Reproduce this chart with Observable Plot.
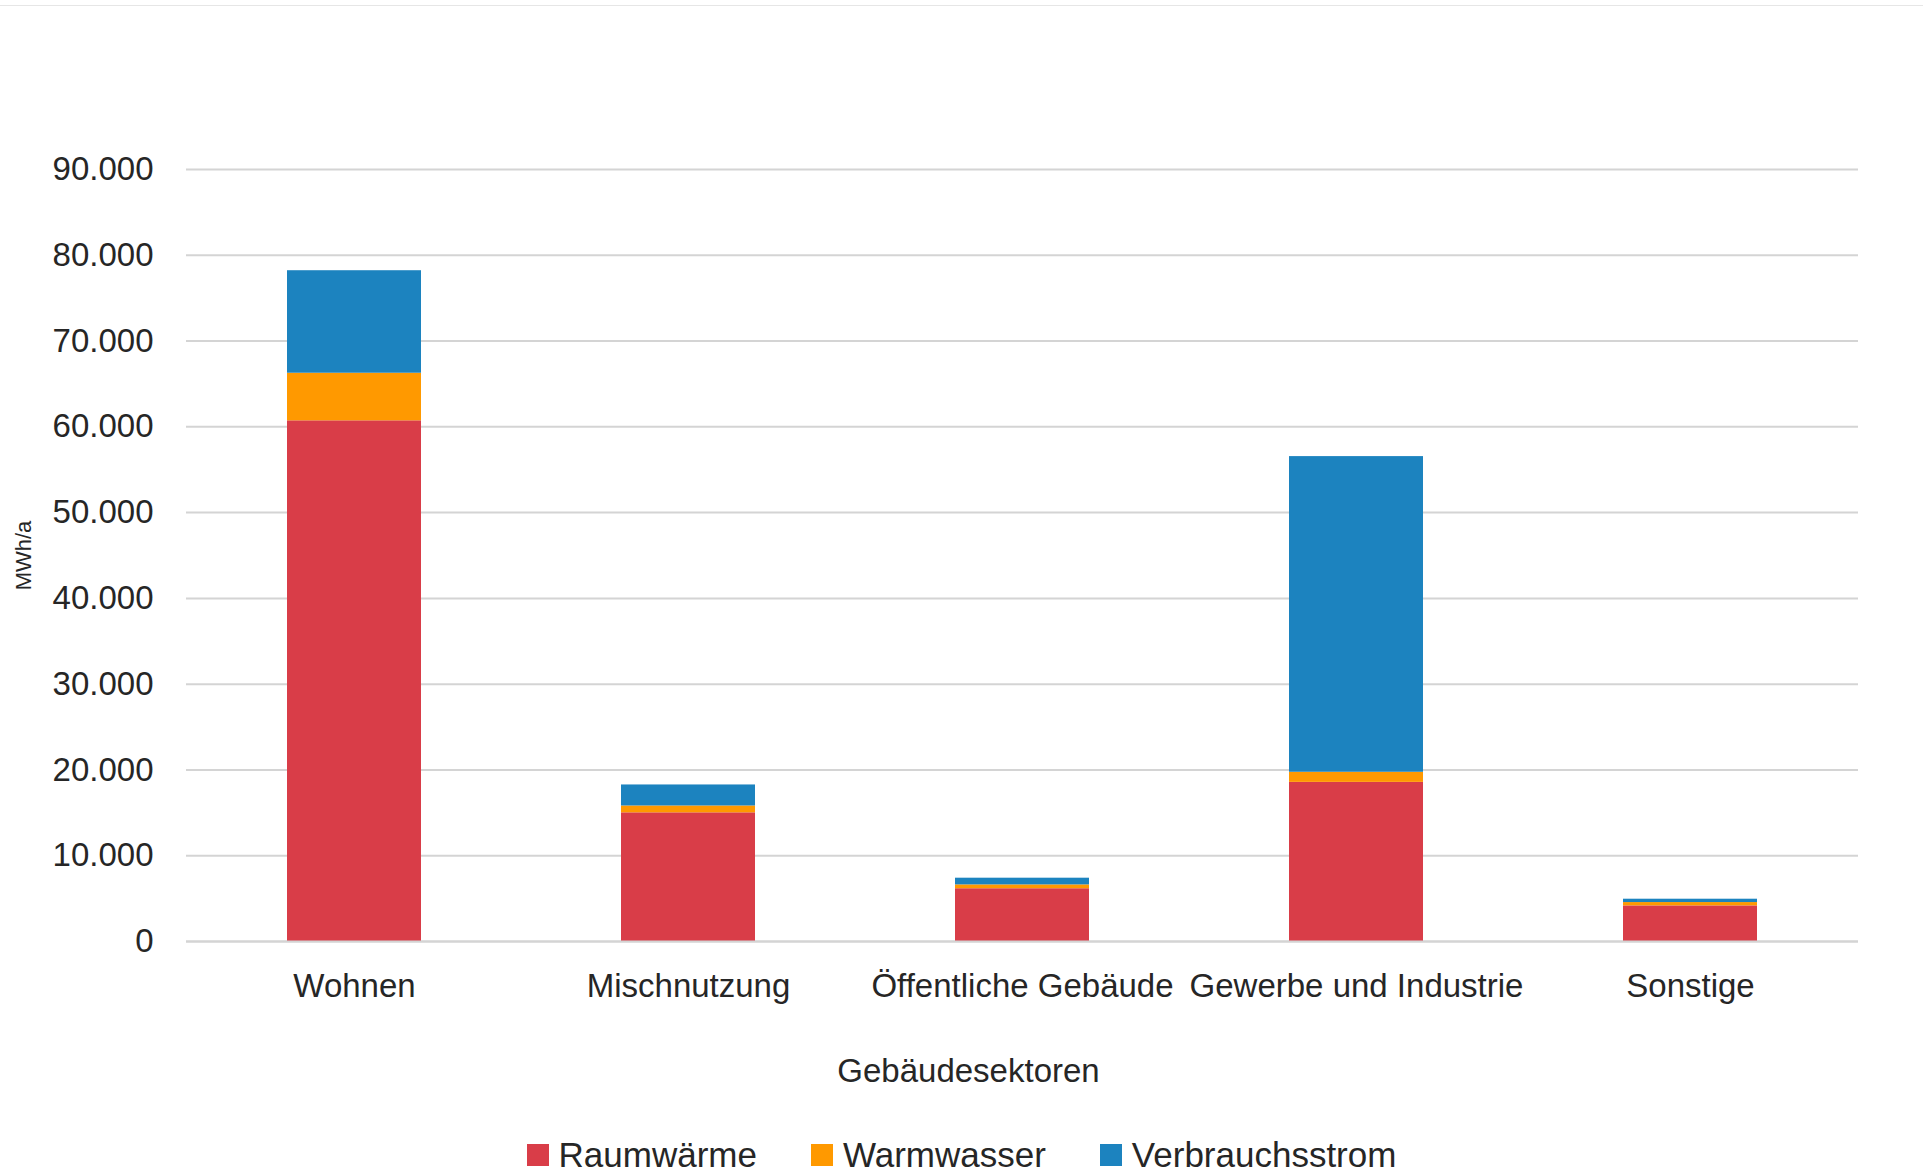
<!DOCTYPE html>
<html><head><meta charset="utf-8">
<script src="https://cdn.jsdelivr.net/npm/d3@7"></script>
<script src="https://cdn.jsdelivr.net/npm/@observablehq/plot@0.6"></script>
<style>
html,body{margin:0;padding:0;background:#fff;}
body{font-family:"Liberation Sans",Arial,sans-serif;color:#262626;position:relative;width:1923px;}
#topline{position:absolute;left:0;top:5px;width:1923px;height:1px;background:#e6e6e6;}
#legend{display:flex;justify-content:center;align-items:center;gap:54px;font-size:35px;height:60px;padding-top:15px;}
.item{display:flex;align-items:center;gap:10px;}
.sw{width:22px;height:22px;display:inline-block;}
</style></head><body>
<div id="topline"></div>
<div id="chart"></div>
<div id="legend"></div>
<script>
const categories = ["Wohnen", "Mischnutzung", "Öffentliche Gebäude", "Gewerbe und Industrie", "Sonstige"];
const seriesNames = ["Raumwärme", "Warmwasser", "Verbrauchsstrom"];
const raumwaerme = [60700, 15000, 6150, 18550, 4150];
const warmwasser = [5550, 800, 450, 1180, 390];
const verbrauchsstrom = [11950, 2450, 780, 36800, 390];
const seriesColors = ["#D93D48", "#FF9900", "#1C83BF"];
const yTicks = [0, 10000, 20000, 30000, 40000, 50000, 60000, 70000, 80000, 90000];
const xTitle = "Gebäudesektoren";
const yTitle = "MWh/a";

const seriesValues = [raumwaerme, warmwasser, verbrauchsstrom];
const rows = [];
seriesNames.forEach((s, si) => categories.forEach((c, ci) => rows.push({category: c, series: s, value: seriesValues[si][ci]})));

const de = d3.formatLocale({decimal: ",", thousands: ".", grouping: [3], currency: ["", " €"]});
const fmt = de.format(",d");
const font = "'Liberation Sans', Arial, sans-serif";

const chart = Plot.plot({
  width: 1923,
  height: 1110,
  marginTop: 169,
  marginBottom: 169,
  marginLeft: 186,
  marginRight: 65,
  style: {fontFamily: font, fontSize: "33px", color: "#262626", background: "white"},
  x: {domain: categories, paddingInner: 0.6, paddingOuter: 0.3, label: null},
  y: {domain: [0, 90000], label: null},
  color: {domain: seriesNames, range: seriesColors},
  marks: [
    Plot.gridY(yTicks, {stroke: "#d4d4d4", strokeOpacity: 1, strokeWidth: 2}),
    Plot.barY(rows, {x: "category", y: "value", fill: "series"}),
    Plot.ruleY([0], {stroke: "#d4d4d4", strokeWidth: 2}),
    Plot.axisY(yTicks, {tickSize: 0, tickPadding: 33, tickFormat: fmt, label: null}),
    Plot.axisX({tickSize: 0, tickPadding: 32, label: null}),
    Plot.text([xTitle], {text: d => d, frameAnchor: "bottom", dx: -54, dy: 140, fontSize: 33, fill: "#262626"}),
    Plot.text([yTitle], {text: d => d, frameAnchor: "left", textAnchor: "middle", dx: -163, rotate: -90, fontSize: 22, fill: "#262626"})
  ]
});
document.getElementById("chart").appendChild(chart);

const legend = document.getElementById("legend");
seriesNames.forEach((s, i) => {
  const item = document.createElement("div");
  item.className = "item";
  const sw = document.createElement("span");
  sw.className = "sw";
  sw.style.background = seriesColors[i];
  const t = document.createElement("span");
  t.textContent = s;
  item.appendChild(sw);
  item.appendChild(t);
  legend.appendChild(item);
});
</script>
</body></html>
